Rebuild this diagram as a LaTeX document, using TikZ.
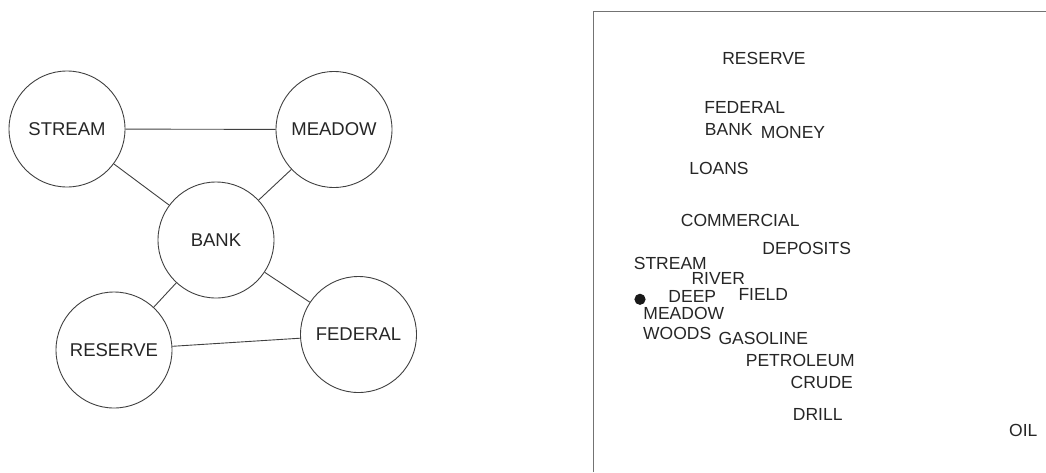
\documentclass[tikz,border=0pt]{standalone}
\usepackage{fontspec}
\setmainfont{Liberation Sans}
\begin{document}
\begin{tikzpicture}[x=1pt,y=-1pt,
  bubble/.style={circle,draw=black!75,line width=0.9pt,minimum size=116pt,inner sep=0pt,
    font=\fontsize{18.5}{20}\selectfont,text=black!85},
  link/.style={draw=black!75,line width=0.9pt},
  word/.style={inner sep=0pt,anchor=center,font=\fontsize{17.5}{19}\selectfont,text=black!85},
  frameline/.style={draw=black!55,line width=0.9pt}]
\useasboundingbox (0,0) rectangle (1046,472);

% network of related words
\node[bubble] (stream)  at (67,129)    {STREAM};
\node[bubble] (meadow)  at (334,129.5) {MEADOW};
\node[bubble] (bank)    at (216,240)   {BANK};
\node[bubble] (reserve) at (114,350)   {RESERVE};
\node[bubble] (federal) at (358.5,334.5) {FEDERAL};

\draw[link] (stream) -- (meadow);
\draw[link] (stream) -- (bank);
\draw[link] (meadow) -- (bank);
\draw[link] (bank) -- (reserve);
\draw[link] (bank) -- (federal);
\draw[link] (reserve) -- (federal);

% open frame of the word map
\coordinate (fbl) at (593.3,472);
\coordinate (ftl) at (593.3,11);
\coordinate (ftr) at (1046,11);
\draw[frameline] (fbl) -- (ftl) -- (ftr);

% word map
\node[word] (w1)  at (764,58.7)    {RESERVE};
\node[word] (w2)  at (744.7,107)   {FEDERAL};
\node[word] (w3)  at (728.8,129.5) {BANK};
\node[word] (w4)  at (793,132.8)   {MONEY};
\node[word] (w5)  at (719,168)     {LOANS};
\node[word] (w6)  at (740.2,220)   {COMMERCIAL};
\node[word] (w7)  at (806.7,248.2) {DEPOSITS};
\node[word] (w8)  at (670.3,263.7) {STREAM};
\node[word] (w9)  at (718.3,278.7) {RIVER};
\node[word] (w10) at (692.3,296.3) {DEEP};
\node[word] (w11) at (763.3,294.5) {FIELD};
\node[word] (w12) at (683.8,313.8) {MEADOW};
\node[word] (w13) at (677.2,333)   {WOODS};
\node[word] (w14) at (763.3,338.3) {GASOLINE};
\node[word] (w15) at (800.3,360.5) {PETROLEUM};
\node[word] (w16) at (821.8,382.2) {CRUDE};
\node[word] (w17) at (817.7,414.2) {DRILL};
\node[word] (w18) at (1023.3,430.7) {OIL};
\fill[black!90] (640,299.3) circle (5.6pt);
\end{tikzpicture}
\end{document}
